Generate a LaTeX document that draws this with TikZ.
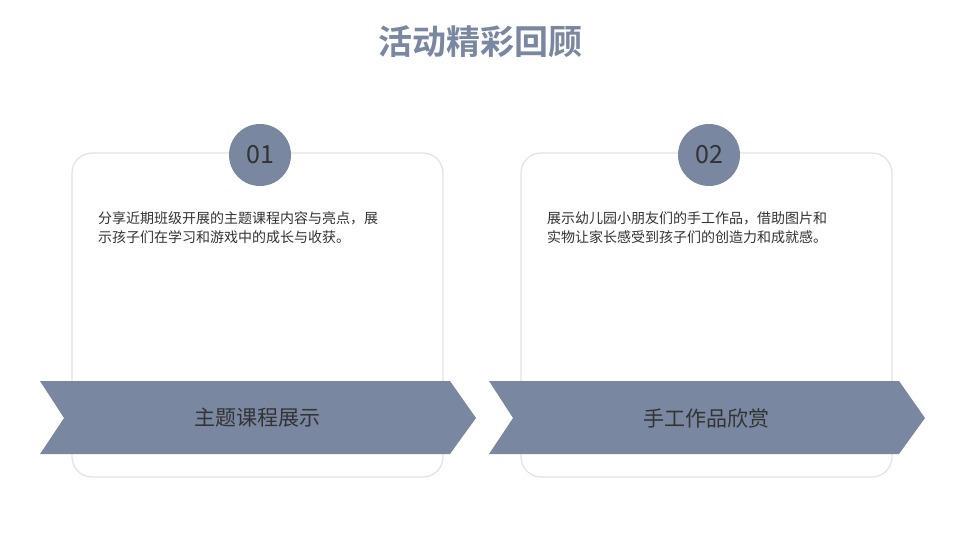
\documentclass[tikz,border=0pt]{standalone}
\usepackage{fontspec}
\newfontfamily\cjk{Noto Sans CJK SC}
\newfontfamily\cjkb{Noto Sans CJK SC Bold}
\definecolor{slate}{HTML}{7A87A1}
\definecolor{txt}{HTML}{333333}
\definecolor{bord}{HTML}{E2E2E4}
\begin{document}
\begin{tikzpicture}[x=1pt,y=-1pt,
  card/.style={draw=bord,line width=1.2pt,rounded corners=20pt,fill=white},
  num/.style={circle,fill=slate,minimum size=62pt,inner sep=0pt,font=\cjk\fontsize{25}{25}\selectfont,text=txt},
  body/.style={anchor=north west,align=left,font=\cjk\fontsize{14}{19}\selectfont,text=txt,inner sep=0pt},
  ban/.style={fill=slate,draw=none},
  bantext/.style={font=\cjk\fontsize{21}{21}\selectfont,text=txt}]
\useasboundingbox (0,0) rectangle (960,540);
\node[font=\cjkb\fontsize{34}{34}\selectfont,text=slate] (title) at (480,42) {活动精彩回顾};
\foreach \d/\n/\t/\a/\b in {0/01/主题课程展示/分享近期班级开展的主题课程内容与亮点，展/示孩子们在学习和游戏中的成长与收获。,449/02/手工作品欣赏/展示幼儿园小朋友们的手工作品，借助图片和/实物让家长感受到孩子们的创造力和成就感。}{
  \draw[card] (72+\d,153) rectangle (443+\d,477);
  \node[num] (c\n) at (260+\d,155) {\n};
  \node[body] (b\n) at (98+\d,211) {\a\\\b};
  \fill[ban] (40+\d,381) -- (450+\d,381) -- (476+\d,418) -- (450+\d,454) -- (40+\d,454) -- (64+\d,418) -- cycle;
  \node[bantext] (t\n) at (257+\d,418) {\t};
}
\end{tikzpicture}
\end{document}
